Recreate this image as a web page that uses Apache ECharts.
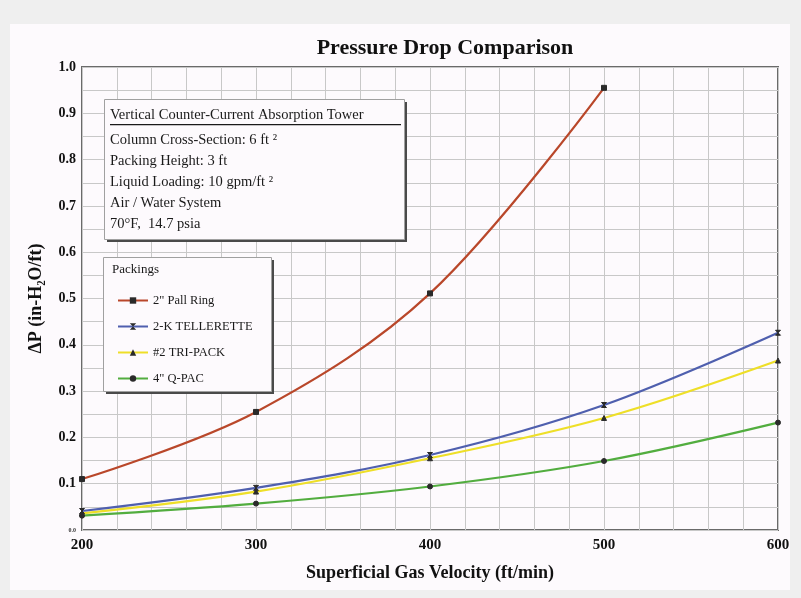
<!DOCTYPE html>
<html>
<head>
<meta charset="utf-8">
<script src="https://cdn.jsdelivr.net/npm/echarts@6/dist/echarts.min.js"></script>
<style>
html,body{margin:0;padding:0;background:#efefef;}
#chart{width:801px;height:598px;}
</style>
</head>
<body>
<div id="chart"></div>
<script>
// ---- Data ----
var velocities = [200, 300, 400, 500, 600];
var pallRing = [0.110, 0.255, 0.511, 0.955, null];
var tellerette = [0.041, 0.091, 0.162, 0.270, 0.426];
var triPack = [0.036, 0.083, 0.155, 0.242, 0.366];
var qPac = [0.031, 0.057, 0.094, 0.149, 0.232];
var seriesNames = ['2" Pall Ring', '2-K TELLERETTE', '#2 TRI-PACK', '4" Q-PAC'];
var infoLines = ['Column Cross-Section: 6 ft \u00B2', 'Packing Height: 3 ft', 'Liquid Loading: 10 gpm/ft \u00B2', 'Air / Water System', '70\u00B0F,  14.7 psia'];
var infoTitle = 'Vertical Counter-Current Absorption Tower';

var FONT = "'Liberation Serif','Times New Roman',serif";
function pairs(arr){
  var out = [];
  for (var i = 0; i < velocities.length; i++) if (arr[i] != null) out.push([velocities[i], arr[i]]);
  return out;
}
var colors = ['#b9472a', '#4f5fae', '#eedf28', '#52ad3f'];
var symbols = ['rect', 'path://M0,0 L10,0 L0,10 L10,10 Z', 'triangle', 'circle'];
var datas = [pallRing, tellerette, triPack, qPac];

var series = datas.map(function(d, i){
  return {
    name: seriesNames[i],
    type: 'line',
    data: pairs(d),
    smooth: 0.35,
    symbol: symbols[i],
    symbolSize: 5,
    showSymbol: true,
    lineStyle: {color: colors[i], width: 2.2},
    itemStyle: {color: '#2a2a2a', borderColor: '#2a2a2a'},
    emphasis: {disabled: true},
    z: 3 + (3 - i)
  };
});

var chart = echarts.init(document.getElementById('chart'), null, {renderer: 'canvas'});

function box(x, y, w, h){
  return [
    {type: 'rect', left: x + 3, top: y + 3, shape: {width: w, height: h}, style: {fill: '#4a4a4a'}, z: 49, silent: true},
    {type: 'rect', left: x, top: y, shape: {width: w, height: h}, style: {fill: '#fdfafd', stroke: '#a0a0a0', lineWidth: 1}, z: 50, silent: true}
  ];
}

var infoGraphic = [
  {type: 'rect', left: 10, top: 24, shape: {width: 780, height: 566}, style: {fill: '#fdfafd'}, z: -10, silent: true}
].concat(box(104, 99, 300, 140)).concat(box(103, 257, 168, 134)).concat([
  {type: 'text', left: 110, top: 108, style: {text: infoTitle, font: '14.5px ' + FONT, fill: '#1a1a1a'}, z: 51},
  {type: 'rect', left: 110, top: 124, shape: {width: 291, height: 1.3}, style: {fill: '#1a1a1a'}, z: 51},
  {type: 'text', left: 112, top: 263, style: {text: 'Packings', font: '13px ' + FONT, fill: '#1a1a1a'}, z: 51}
]);
infoLines.forEach(function(t, i){
  infoGraphic.push({type: 'text', left: 110, top: 133 + i * 21, style: {text: t, font: '14.5px ' + FONT, fill: '#1a1a1a'}, z: 51});
});

chart.setOption({
  backgroundColor: 'transparent',
  animation: false,
  title: {
    text: 'Pressure Drop Comparison',
    left: 440, top: 32, textAlign: 'center',
    textStyle: {fontFamily: FONT, fontSize: 22, fontWeight: 'bold', color: '#111'}
  },
  grid: {left: 82, right: 23, top: 67, bottom: 68, show: true, borderColor: '#6a6a6a', borderWidth: 2, backgroundColor: '#fdfafd'},
  legend: {
    orient: 'vertical', left: 112, top: 289, itemWidth: 30, itemHeight: 8, itemGap: 13,
    data: seriesNames,
    textStyle: {fontFamily: FONT, fontSize: 12.5, color: '#1a1a1a'},
    z: 60, selectedMode: false
  },
  xAxis: {
    type: 'value', min: 200, max: 600, interval: 20,
    name: 'Superficial Gas Velocity (ft/min)', nameLocation: 'middle', nameGap: 34,
    nameTextStyle: {fontFamily: FONT, fontSize: 18, fontWeight: 'bold', color: '#111'},
    axisLine: {show: false}, axisTick: {show: false},
    axisLabel: {fontFamily: FONT, fontSize: 15, fontWeight: 'bold', color: '#111', margin: 8,
      formatter: function(v){ return v % 100 === 0 ? String(v) : ''; }},
    splitLine: {show: true, lineStyle: {color: '#c8c8c8', width: 1}}
  },
  yAxis: {
    type: 'value', min: 0, max: 1, interval: 0.05,
    name: '\u0394P (in-H\u2082O/ft)', nameLocation: 'middle', nameGap: 37,
    nameTextStyle: {fontFamily: FONT, fontSize: 18, fontWeight: 'bold', color: '#111'},
    axisLine: {show: false}, axisTick: {show: false},
    axisLabel: {fontFamily: FONT, fontSize: 14, fontWeight: 'bold', color: '#111', margin: 6,
      formatter: function(v){
        var r = Math.round(v * 100);
        if (r === 0) return '{s|0.0}';
        return r % 10 === 0 ? (r / 100).toFixed(1) : '';
      },
      rich: {s: {fontSize: 6, fontFamily: FONT, color: '#333'}}},
    splitLine: {show: true, lineStyle: {color: '#c8c8c8', width: 1}}
  },
  graphic: infoGraphic,
  series: series
});
</script>
</body>
</html>
